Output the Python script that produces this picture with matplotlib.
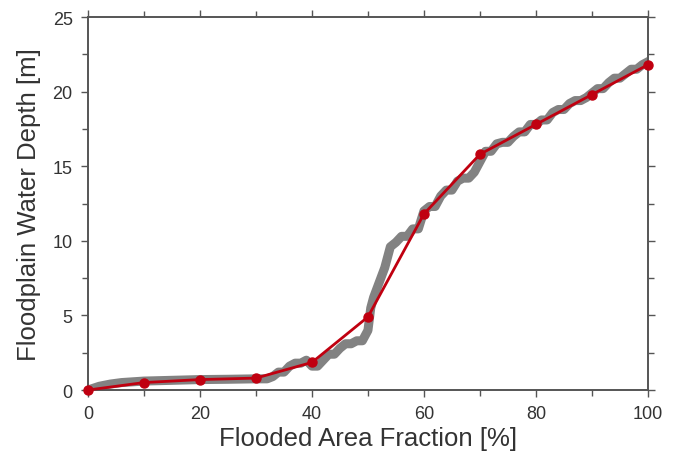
import matplotlib
matplotlib.use("Agg")
import matplotlib.pyplot as plt
from matplotlib.ticker import MultipleLocator

# gray jagged curve (fine resolution)
fine_x = [0, 2, 4, 6, 8, 10, 15, 20, 25, 30, 32, 33, 34, 35, 36, 37, 38, 39, 40,
          41, 42, 43, 44, 45, 46, 47, 48, 49, 50, 50.5, 51, 52, 53, 54, 55, 56,
          57, 58, 59, 60, 61, 62, 63, 64, 65, 66, 67, 68, 69, 70, 71, 72, 73,
          74, 75, 76, 77, 78, 79, 80, 81, 82, 83, 84, 85, 86, 87, 88, 89, 90,
          91, 92, 93, 94, 95, 96, 97, 98, 99, 100]
fine_y = [0.0, 0.25, 0.4, 0.5, 0.55, 0.6, 0.65, 0.7, 0.72, 0.75, 0.75, 0.9, 1.2, 1.2,
          1.6, 1.8, 1.8, 2.0, 1.6, 1.6, 2.0, 2.4, 2.4, 2.8, 3.1, 3.1, 3.3, 3.3,
          4.0, 5.5, 6.2, 7.2, 8.2, 9.6, 9.9, 10.3, 10.3, 10.8, 10.8, 12.0, 12.3,
          12.3, 13.0, 13.4, 13.4, 14.0, 14.2, 14.2, 14.6, 15.3, 16.0, 16.0, 16.5,
          16.6, 16.6, 17.0, 17.3, 17.3, 17.8, 17.8, 18.1, 18.1, 18.6, 18.8, 18.8,
          19.2, 19.4, 19.4, 19.6, 19.9, 20.2, 20.2, 20.6, 20.9, 20.9, 21.2, 21.5,
          21.5, 21.8, 22.0]

# red sampled curve
pts_x = [0, 10, 20, 30, 40, 50, 60, 70, 80, 90, 100]
pts_y = [0.0, 0.5, 0.7, 0.8, 1.85, 4.9, 11.8, 15.8, 17.8, 19.8, 21.8]

plt.rcParams['font.family'] = ['Liberation Sans', 'DejaVu Sans']

fig = plt.figure(figsize=(6.77, 4.56), dpi=100)
ax = fig.add_axes([0.130, 0.1425, 0.827, 0.818])

ax.plot(fine_x, fine_y, color='#828282', linewidth=6.5, zorder=2)
ax.plot(pts_x, pts_y, color='#c00010', linewidth=2, marker='o', markersize=6.5,
        zorder=3, clip_on=False)

ax.set_xlim(0, 100)
ax.set_ylim(0, 25)
ax.xaxis.set_major_locator(MultipleLocator(20))
ax.xaxis.set_minor_locator(MultipleLocator(10))
ax.yaxis.set_major_locator(MultipleLocator(5))
ax.yaxis.set_minor_locator(MultipleLocator(2.5))
ax.tick_params(which='both', direction='out', top=True, right=True,
               color='#555555', width=1, labelsize=13, labelcolor='#333333')
ax.tick_params(which='major', length=5, pad=6)
ax.tick_params(which='minor', length=4)
for s in ax.spines.values():
    s.set_color('#555555')
    s.set_linewidth(1.4)

ax.set_xlabel('Flooded Area Fraction [%]', fontsize=18.5, color='#333333', labelpad=3)
ax.set_ylabel('Floodplain Water Depth [m]', fontsize=18.5, color='#333333', labelpad=8)

fig.savefig('out.png', dpi=100)
